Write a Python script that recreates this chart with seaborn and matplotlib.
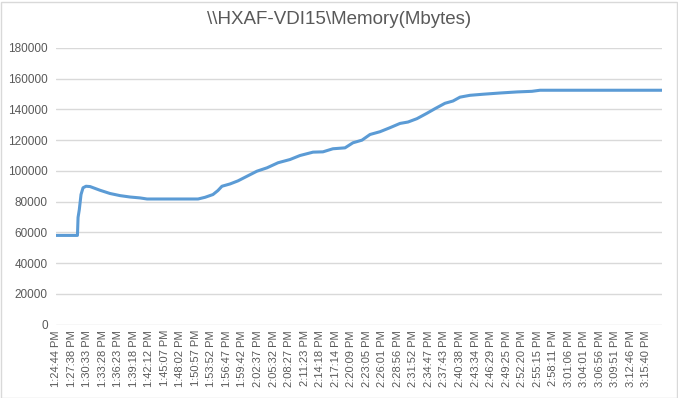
import matplotlib
matplotlib.use("Agg")
import matplotlib.pyplot as plt
import seaborn as sns
import pandas as pd
from matplotlib.patches import Rectangle

# x positions in units of tick-label slots (0 = first label), values in Mbytes
pos = [0.00, 1.38, 1.42, 1.50, 1.61, 1.74, 1.93, 2.19, 2.83, 3.47, 4.12, 4.76,
       5.41, 5.86, 9.14, 9.59, 10.10, 10.42, 10.68, 11.20, 11.71, 12.29, 12.93,
       13.58, 14.29, 15.06, 15.70, 16.54, 17.18, 17.82, 18.60, 19.11, 19.69,
       20.21, 20.85, 21.49, 22.14, 22.65, 23.23, 23.87, 24.39, 25.03, 25.55,
       26.00, 26.64, 27.48, 28.57, 29.67, 30.63, 31.15, 39.00]
memory = [58000, 58000, 69700, 74800, 84600, 89000, 90000, 89800, 87400, 85300,
          83900, 83000, 82400, 81700, 81700, 82800, 84600, 87200, 90000, 91500,
          93500, 96500, 99800, 102000, 105300, 107400, 110000, 112200, 112400,
          114400, 115000, 118300, 120000, 123700, 125500, 128100, 130900, 131800,
          134000, 137500, 140500, 144000, 145500, 148000, 149200, 149900, 150700,
          151400, 151800, 152500, 152500]
tick_labels = ["1:24:44 PM", "1:27:38 PM", "1:30:33 PM", "1:33:28 PM", "1:36:23 PM",
               "1:39:18 PM", "1:42:12 PM", "1:45:07 PM", "1:48:02 PM", "1:50:57 PM",
               "1:53:52 PM", "1:56:47 PM", "1:59:42 PM", "2:02:37 PM", "2:05:32 PM",
               "2:08:27 PM", "2:11:23 PM", "2:14:18 PM", "2:17:14 PM", "2:20:09 PM",
               "2:23:05 PM", "2:26:01 PM", "2:28:56 PM", "2:31:52 PM", "2:34:47 PM",
               "2:37:43 PM", "2:40:38 PM", "2:43:34 PM", "2:46:29 PM", "2:49:25 PM",
               "2:52:20 PM", "2:55:15 PM", "2:58:11 PM", "3:01:06 PM", "3:04:01 PM",
               "3:06:56 PM", "3:09:51 PM", "3:12:46 PM", "3:15:40 PM"]
title = "\\\\HXAF-VDI15\\Memory(Mbytes)"

sns.set_theme(style="white")
plt.rcParams['font.family'] = ['Liberation Sans', 'DejaVu Sans']

df = pd.DataFrame({"pos": pos, "memory": memory})

fig = plt.figure(figsize=(6.78, 3.98), dpi=100)
ax = fig.add_axes([56/678, 1 - 324.5/398, 606/678, (324.5 - 48)/398])

sns.lineplot(data=df, x="pos", y="memory", ax=ax, color="#5B9BD5", linewidth=2.2)

ax.set_xlim(0, 39)
ax.set_ylim(0, 180000)
ax.set_yticks(range(0, 180001, 20000))
ax.set_yticklabels([str(v) for v in range(0, 180001, 20000)], fontsize=8.5, color="#595959")
ax.set_xticks(range(len(tick_labels)))
ax.set_xticklabels(tick_labels, rotation=90, fontsize=8, color="#595959")
ax.tick_params(axis="both", length=0, pad=6)
ax.tick_params(axis="x", pad=4)
ax.set_xlabel("")
ax.set_ylabel("")
ax.grid(axis="y", color="#D9D9D9", linewidth=1)
ax.set_axisbelow(True)
for s in ax.spines.values():
    s.set_visible(False)

fig.text(339/678, 1 - 20/398, title, ha="center", va="center", fontsize=13.5, color="#595959")
fig.patches.append(Rectangle((0.5/678, 0.5/398), 676/678, 396/398, transform=fig.transFigure,
                             fill=False, edgecolor="#D9D9D9", linewidth=1))

fig.savefig("out.png", dpi=100)
